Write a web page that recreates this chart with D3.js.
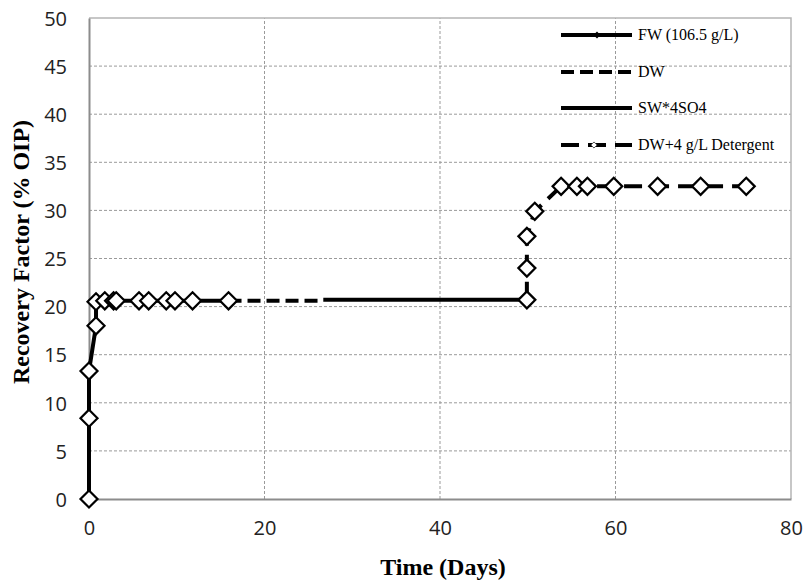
<!doctype html>
<html>
<head>
<meta charset="utf-8">
<script src="https://d3js.org/d3.v7.min.js"></script>
<style>
  body { margin: 0; background: #fff; }
</style>
</head>
<body>
<script>
// data
var fwDays   = [0, 0, 0, 0.8, 0.8, 1.8, 2.8, 3.1, 5.7, 6.8, 8.8, 9.8, 11.8, 15.9];
var fwRF     = [0, 8.4, 13.3, 18.0, 20.5, 20.6, 20.6, 20.6, 20.6, 20.6, 20.6, 20.6, 20.6, 20.6];
var dwDays   = [15.9, 26.7];
var dwRF     = [20.6, 20.6];
var swDays   = [26.7, 49.9];
var swRF     = [20.7, 20.7];
var detDays  = [49.9, 49.9, 49.9, 50.8, 53.8, 55.6, 56.8, 59.8, 64.8, 69.7, 74.9];
var detRF    = [20.7, 24.0, 27.3, 29.9, 32.5, 32.5, 32.5, 32.5, 32.5, 32.5, 32.5];
var xTicks   = [0, 20, 40, 60, 80];
var yTicks   = [0, 5, 10, 15, 20, 25, 30, 35, 40, 45, 50];
var legendNames = ["FW (106.5 g/L)", "DW", "SW*4SO4", "DW+4 g/L Detergent"];

var W = 809, H = 584;
var m = {left: 89, right: 18, top: 18, bottom: 85};

var svg = d3.select("body").append("svg").attr("width", W).attr("height", H);

var x = d3.scaleLinear().domain([0, 80]).range([m.left, W - m.right]);
var y = d3.scaleLinear().domain([0, 50]).range([H - m.bottom, m.top]);

function zip(a, b) { return a.map(function (d, i) { return [d, b[i]]; }); }

// gridlines
svg.append("g").selectAll("line").data(yTicks.filter(function (d) { return d > 0 && d < 50; }))
  .enter().append("line")
  .attr("x1", x(0)).attr("x2", x(80))
  .attr("y1", function (d) { return y(d); }).attr("y2", function (d) { return y(d); })
  .attr("stroke", "#9a9a9a").attr("stroke-width", 1).attr("stroke-dasharray", "3,2");
svg.append("g").selectAll("line").data(xTicks.filter(function (d) { return d > 0 && d < 80; }))
  .enter().append("line")
  .attr("y1", y(0)).attr("y2", y(50))
  .attr("x1", function (d) { return x(d); }).attr("x2", function (d) { return x(d); })
  .attr("stroke", "#9a9a9a").attr("stroke-width", 1).attr("stroke-dasharray", "3,2");

// plot border (top/right)
svg.append("path")
  .attr("d", "M" + x(0) + "," + y(50) + "H" + x(80) + "V" + y(0))
  .attr("fill", "none").attr("stroke", "#b5b5b5").attr("stroke-width", 1.5);

// axes
var xAxis = svg.append("g").attr("transform", "translate(0," + y(0) + ")")
  .call(d3.axisBottom(x).tickValues(xTicks).tickSize(0).tickPadding(22));
var yAxis = svg.append("g").attr("transform", "translate(" + x(0) + ",0)")
  .call(d3.axisLeft(y).tickValues(yTicks).tickSize(0).tickPadding(22));
[xAxis, yAxis].forEach(function (g) {
  g.select(".domain").attr("stroke", "#8c8c8c").attr("stroke-width", 2);
  g.selectAll("text").attr("font-family", "'Open Sans', sans-serif")
    .attr("font-size", 20).attr("fill", "#222");
});
yAxis.selectAll("text").attr("dy", "0.36em");

var line = d3.line().x(function (d) { return x(d[0]); }).y(function (d) { return y(d[1]); });

var series = [
  {pts: zip(fwDays, fwRF), dash: null, marker: true},
  {pts: zip(dwDays, dwRF), dash: "13,6", marker: false},
  {pts: zip(swDays, swRF), dash: null, marker: false},
  {pts: zip(detDays, detRF), dash: "18,9", marker: true}
];

series.forEach(function (s) {
  svg.append("path").datum(s.pts).attr("d", line)
    .attr("fill", "none").attr("stroke", "#000").attr("stroke-width", 4)
    .attr("stroke-dasharray", s.dash);
});

var diamond = d3.symbol().type(d3.symbolDiamond2).size(185);
series.filter(function (s) { return s.marker; }).forEach(function (s) {
  svg.append("g").selectAll("path").data(s.pts).enter().append("path")
    .attr("d", diamond)
    .attr("transform", function (d) { return "translate(" + x(d[0]) + "," + y(d[1]) + ")"; })
    .attr("fill", "#fff").attr("stroke", "#000").attr("stroke-width", 2.2);
});

// legend
var legY = [35, 72, 108, 145];
var lg = svg.append("g");
legendNames.forEach(function (name, i) {
  var s = series[i];
  lg.append("line").attr("x1", 561).attr("x2", 632).attr("y1", legY[i]).attr("y2", legY[i])
    .attr("stroke", "#000").attr("stroke-width", 4).attr("stroke-dasharray", s.dash);
  if (i === 0) {
    lg.append("path").attr("d", d3.symbol().type(d3.symbolDiamond2).size(30))
      .attr("transform", "translate(597," + legY[i] + ")").attr("fill", "#000");
  }
  if (i === 3) {
    lg.append("path").attr("d", d3.symbol().type(d3.symbolDiamond2).size(24))
      .attr("transform", "translate(594," + legY[i] + ")")
      .attr("fill", "#fff").attr("stroke", "#555").attr("stroke-width", 1);
  }
  lg.append("text").attr("x", 638).attr("y", legY[i] + 5)
    .attr("font-family", "'Liberation Serif', 'Times New Roman', serif")
    .attr("font-size", 16).attr("fill", "#000").text(name);
});

// axis titles
svg.append("text").attr("x", x(40) + 3).attr("y", 575)
  .attr("text-anchor", "middle")
  .attr("font-family", "'Liberation Serif', 'Times New Roman', serif")
  .attr("font-weight", "bold").attr("font-size", 24).text("Time (Days)");
svg.append("text").attr("transform", "translate(29,252) rotate(-90)")
  .attr("text-anchor", "middle")
  .attr("font-family", "'Liberation Serif', 'Times New Roman', serif")
  .attr("font-weight", "bold").attr("font-size", 24).text("Recovery Factor (% OIP)");
</script>
</body>
</html>
